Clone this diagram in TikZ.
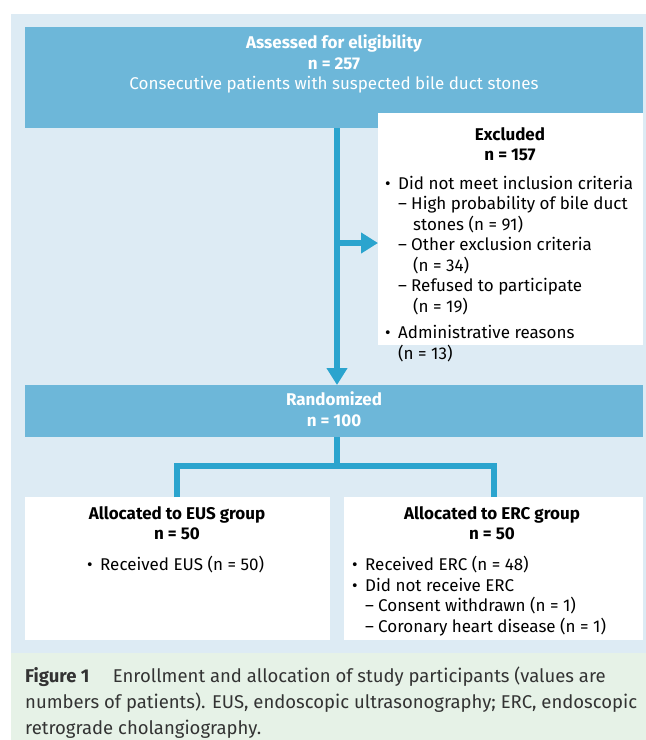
\documentclass[tikz,border=0pt]{standalone}
\usepackage{fontspec}
\setmainfont{Fira Sans}
\usetikzlibrary{arrows.meta}

\definecolor{panelbg}{HTML}{DDEBF4}
\definecolor{captionbg}{HTML}{E6F2E7}
\definecolor{headfill}{HTML}{6DB7D9}
\definecolor{flowblue}{HTML}{2BA4CE}
\definecolor{captext}{HTML}{333333}

\newcommand{\bul}{\makebox[13pt][l]{\textbullet}}
\newcommand{\dsh}{\makebox[13pt][l]{--}}

\begin{document}
\begin{tikzpicture}[x=1pt, y=-1pt,
    font=\fontsize{17}{20.5}\selectfont,
    headbox/.style={fill=headfill, inner sep=0pt, anchor=north west},
    whitebox/.style={fill=white, inner sep=0pt, anchor=north west},
    headtext/.style={text=white, inner sep=0pt, anchor=north, align=center},
    titletext/.style={inner sep=0pt, anchor=north, align=center, font=\fontsize{17}{20.5}\selectfont\bfseries},
    listtext/.style={inner sep=0pt, anchor=north west, align=left},
    flow/.style={draw=flowblue, line width=6pt},
    flowarrow/.style={flow, -{Triangle[width=20pt,length=17pt]}},
  ]
    \useasboundingbox (0,0) rectangle (646,740);

    % panels
    \fill[panelbg] (11,14) rectangle (646,653);
    \fill[captionbg] (11,653) rectangle (646,740);

    % boxes
    \node[headbox, minimum width=618, minimum height=101] (assess) at (25,27) {};
    \node[whitebox, minimum width=265, minimum height=232] (excl) at (378,113) {};
    \node[headbox, minimum width=618, minimum height=52] (rand) at (25,385) {};
    \node[whitebox, minimum width=305, minimum height=143] (eus) at (25,497) {};
    \node[whitebox, minimum width=299, minimum height=143] (erc) at (344,497) {};

    % texts
    \node[headtext] (assesstxt) at (334,35)
      {\textbf{Assessed for eligibility}\\\textbf{n = 257}\\Consecutive patients with suspected bile duct stones};
    \node[titletext] (excltitle) at (510,127) {Excluded\\n = 157};
    \node[listtext] (excllist) at (385,176)
      {\bul Did not meet inclusion criteria\\
       \hspace*{13pt}\dsh High probability of bile duct\\
       \hspace*{28pt}stones (n = 91)\\
       \hspace*{13pt}\dsh Other exclusion criteria\\
       \hspace*{28pt}(n = 34)\\
       \hspace*{13pt}\dsh Refused to participate\\
       \hspace*{28pt}(n = 19)\\[6pt]
       \bul Administrative reasons\\
       \hspace*{13pt}(n = 13)};
    \node[headtext, font=\fontsize{17}{20.5}\selectfont\bfseries] (randtxt) at (334,392) {Randomized\\n = 100};
    \node[titletext] (eustitle) at (177,506) {Allocated to EUS group\\n = 50};
    \node[listtext] (euslist) at (87,556) {\bul Received EUS (n = 50)};
    \node[titletext] (erctitle) at (492,506) {Allocated to ERC group\\n = 50};
    \node[listtext] (erclist) at (352,556)
      {\bul Received ERC (n = 48)\\
       \bul Did not receive ERC\\
       \hspace*{13pt}\dsh Consent withdrawn (n = 1)\\
       \hspace*{13pt}\dsh Coronary heart disease (n = 1)};

    % connectors
    \coordinate (trunk) at (337,0);
    \coordinate (branch) at (337,243);
    \coordinate (split) at (337,466);
    \coordinate (eusin) at (177,497);
    \coordinate (ercin) at (494,497);
    \draw[flowarrow] (assess.south -| trunk) -- (rand.north -| trunk);
    \draw[flowarrow] (branch) -- (excl.west |- branch);
    \draw[flow] (rand.south -| trunk) -- (split);
    \draw[flow] (eusin) |- (split) -| (ercin);

    % caption
    \node[inner sep=0pt, anchor=north west, align=left, text=captext,
          font=\fontsize{18.5}{26}\selectfont] (caption) at (25,667)
      {\textbf{Figure 1}\quad\ Enrollment and allocation of study participants (values are\\
       numbers of patients). EUS, endoscopic ultrasonography; ERC, endoscopic\\
       retrograde cholangiography.};
\end{tikzpicture}
\end{document}
